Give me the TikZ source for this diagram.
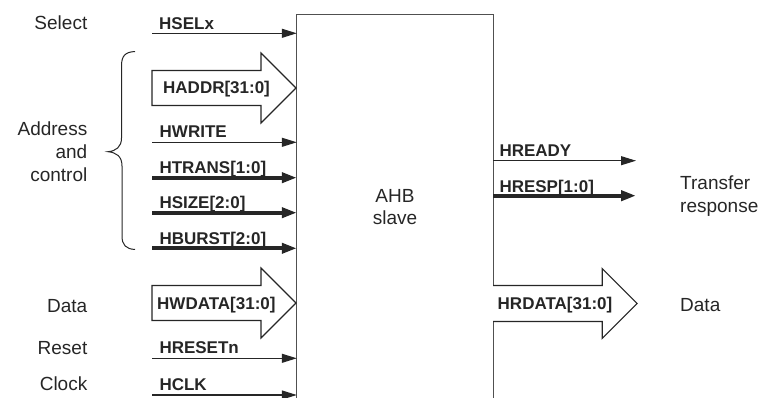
\documentclass[tikz,border=0pt]{standalone}
\usepackage{fontspec}
\setmainfont{Liberation Sans}
\usetikzlibrary{arrows.meta}
\definecolor{ink}{HTML}{262626}
\definecolor{boxgray}{HTML}{505050}
\tikzset{
  sig/.style={draw=ink, line width=1.1pt, -{Triangle[length=15pt,width=9pt]}},
  bus/.style={draw=ink, line width=4pt, -{Triangle[length=15pt,width=10pt]}},
  fat/.style={draw=ink, line width=1.1pt, fill=white, line join=miter},
  boxline/.style={draw=boxgray, line width=1.3pt},
  sname/.style={font=\fontsize{17}{20}\selectfont\bfseries, text=ink, inner sep=0pt, anchor=base west},
  desc/.style={font=\fontsize{19}{22}\selectfont, text=ink, inner sep=0pt, anchor=base east},
  descl/.style={font=\fontsize{19}{22}\selectfont, text=ink, inner sep=0pt, anchor=base west},
  mid/.style={font=\fontsize{19}{22}\selectfont, text=ink, inner sep=0pt, anchor=base},
}
\begin{document}
\begin{tikzpicture}[x=1pt,y=-1pt]
\useasboundingbox (0,0) rectangle (763,398);
% slave box (open at bottom)
\node[minimum width=196pt, minimum height=383pt, inner sep=0pt] (slave) at (395,206.5) {};
\draw[boxline] (slave.south west) -- (slave.north west) -- (slave.north east) -- (slave.south east);
\node[mid] (ahb) at (395,203) {AHB};
\node[mid] (slv) at (395,225) {slave};

% left descriptions
\node[desc] (select) at (87.5,30) {Select};
\node[desc] (addr1) at (87.5,136) {Address};
\node[desc] (addr2) at (87.5,158.3) {and};
\node[desc] (addr3) at (87.5,181.7) {control};
\node[desc] (datal) at (87.5,312.5) {Data};
\node[desc] (reset) at (87.5,354) {Reset};
\node[desc] (clock) at (87.5,390) {Clock};

% brace
\draw[draw=ink, line width=1pt] (135,51.5) .. controls (125,52) and (121.5,56) .. (121.5,66) -- (121.5,138)
  .. controls (121.5,147) and (116,151) .. (108,151.7)
  .. controls (116,152.5) and (122,156) .. (122,166) -- (122,236)
  .. controls (122,245) and (126,249) .. (135,249.5);

% start coordinates of the left signals
\coordinate (hselS) at (152,33.3);
\coordinate (hwriteS) at (152,142.3);
\coordinate (htransS) at (152,177.7);
\coordinate (hsizeS) at (152,212.7);
\coordinate (hburstS) at (152,248.3);
\coordinate (hresetS) at (152,358.3);
\coordinate (hclkS) at (152,395);

\draw[sig] (hselS) -- (hselS -| slave.west);
\draw[sig] (hwriteS) -- (hwriteS -| slave.west);
\draw[bus] (htransS) -- (htransS -| slave.west);
\draw[bus] (hsizeS) -- (hsizeS -| slave.west);
\draw[bus] (hburstS) -- (hburstS -| slave.west);
\draw[sig] (hresetS) -- (hresetS -| slave.west);
\draw[sig] (hclkS) -- (hclkS -| slave.west);

\node[sname] (hsel) at (159,30) {HSELx};
\node[sname] (hwrite) at (159.5,137.5) {HWRITE};
\node[sname] (htrans) at (159.3,173.5) {HTRANS[1:0]};
\node[sname] (hsize) at (159.3,209) {HSIZE[2:0]};
\node[sname] (hburst) at (159.3,244.5) {HBURST[2:0]};
\node[sname] (hreset) at (159.3,353.5) {HRESETn};
\node[sname] (hclk) at (159.3,390) {HCLK};

% fat bus arrows
\coordinate (haddrS) at (152,88);
\draw[fat] (haddrS) ++(0,-17.5) -- ++(109,0) -- ++(0,-17.5) -- ++(35,35) -- ++(-35,35) -- ++(0,-17.5) -- ++(-109,0) -- cycle;
\node[sname] (haddr) at (163,94) {HADDR[31:0]};

\coordinate (hwdataS) at (152,303);
\draw[fat] (hwdataS) ++(0,-17.5) -- ++(109,0) -- ++(0,-17.5) -- ++(35,35) -- ++(-35,35) -- ++(0,-17.5) -- ++(-109,0) -- cycle;
\node[sname] (hwdata) at (157,309) {HWDATA[31:0]};

\coordinate (hrdataS) at (slave.east |- 0,303.5);
\draw[fat] (hrdataS) ++(0,-18) -- ++(109,0) -- ++(0,-17) -- ++(35,35) -- ++(-35,35) -- ++(0,-17) -- ++(-109,0);
\node[sname] (hrdata) at (497.5,309.5) {HRDATA[31:0]};

% right outputs
\coordinate (hreadyE) at (636,160.7);
\coordinate (hrespE) at (636,195.7);
\draw[sig] (hreadyE -| slave.east) -- (hreadyE);
\draw[bus] (hrespE -| slave.east) -- (hrespE);
\node[sname] (hready) at (499.3,156.5) {HREADY};
\node[sname] (hresp) at (499.3,192.5) {HRESP[1:0]};

% right descriptions
\node[descl] (tr1) at (680,190) {Transfer};
\node[descl] (tr2) at (680,212.5) {response};
\node[descl] (datar) at (680,311.7) {Data};
\end{tikzpicture}
\end{document}
